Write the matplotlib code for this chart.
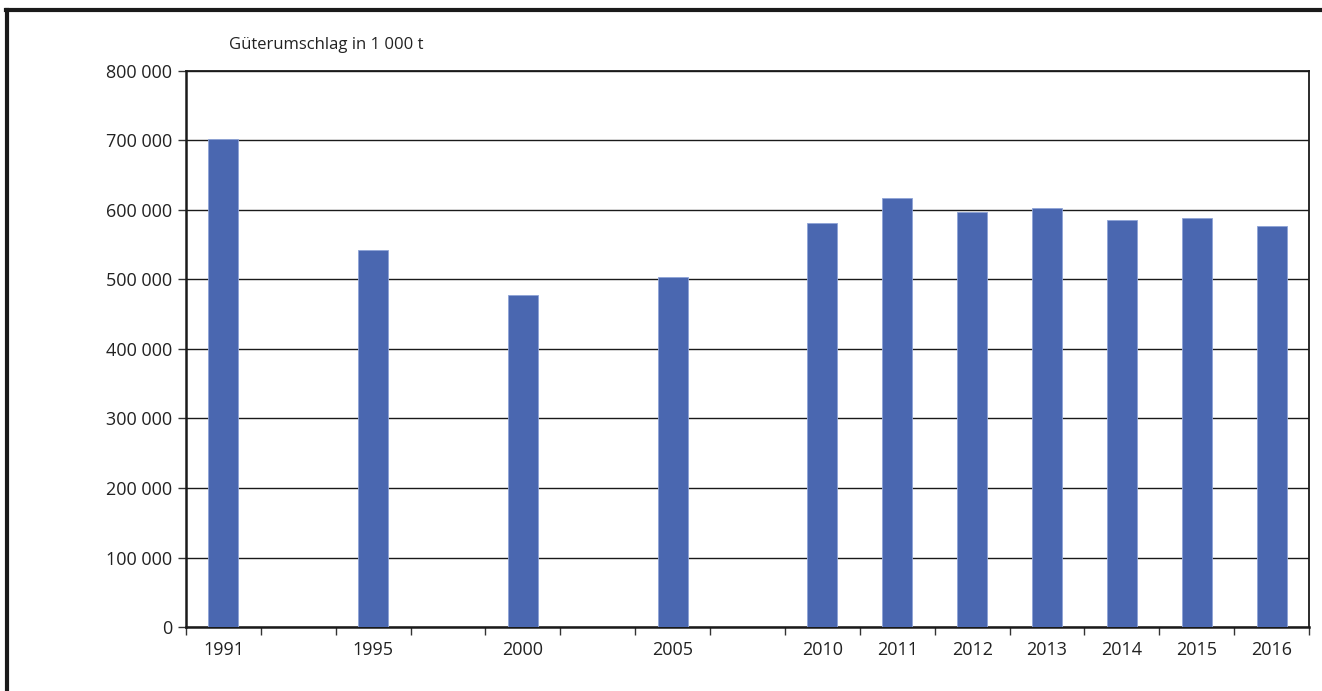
import matplotlib.pyplot as plt
from matplotlib.lines import Line2D
from matplotlib.ticker import FuncFormatter
import numpy as np

# slots on the category axis (empty slots have no bar)
categories = ['1991', '', '1995', '', '2000', '', '2005', '',
              '2010', '2011', '2012', '2013', '2014', '2015', '2016']
values = [702400, None, 541700, None, 478000, None, 502900, None,
          581700, 617300, 597600, 603300, 585500, 588900, 577400]
y_ticks = [0, 100000, 200000, 300000, 400000, 500000, 600000, 700000, 800000]
y_title = 'Güterumschlag in 1 000 t'

plt.rcParams['font.family'] = ['Open Sans', 'DejaVu Sans']

fig = plt.figure(figsize=(13.22, 6.91), dpi=100)
ax = fig.add_axes([0.1407, 0.0926, 0.9902 - 0.1407, 0.8973 - 0.0926])

x = np.arange(len(categories))
bar_x = [i for i, v in zip(x, values) if v is not None]
bar_v = [v for v in values if v is not None]
ax.bar(bar_x, bar_v, width=0.4, color='#4a67b0', edgecolor='#8ea3d6',
       linewidth=0.6, zorder=3)

ax.set_xlim(-0.5, len(categories) - 0.5)
ax.set_ylim(0, 800000)

# y axis, thousands separated by a space
ax.set_yticks(y_ticks)
ax.yaxis.set_major_formatter(FuncFormatter(lambda v, p: f'{int(v):,}'.replace(',', ' ')))
ax.grid(axis='y', color='#1a1a1a', linewidth=1.0, zorder=1)
ax.tick_params(axis='y', length=6, width=1, color='#333333', labelsize=13,
               labelcolor='#222222', pad=4)

# x axis: marks between categories, labels in the middle
ax.set_xticks(np.arange(-0.5, len(categories), 1.0))
ax.set_xticklabels([])
ax.set_xticks(x, minor=True)
ax.set_xticklabels(categories, minor=True)
ax.tick_params(axis='x', which='major', length=6, width=1, color='#333333')
ax.tick_params(axis='x', which='minor', length=0, labelsize=13,
               labelcolor='#222222', pad=10)

for side in ['left', 'bottom', 'right', 'top']:
    ax.spines[side].set_color('#1a1a1a')
    ax.spines[side].set_linewidth(1.3)
ax.spines['left'].set_linewidth(1.8)
ax.spines['bottom'].set_linewidth(1.8)

fig.text(0.1735, 0.935, y_title, fontsize=12, color='#222222',
         ha='left', va='center')

# outer frame (left and top)
fig.add_artist(Line2D([0.0053, 0.0053], [0.0, 0.9855], color='#1a1a1a',
                      linewidth=3.0, transform=fig.transFigure))
fig.add_artist(Line2D([0.0042, 1.0], [0.9855, 0.9855], color='#1a1a1a',
                      linewidth=3.0, transform=fig.transFigure))

fig.savefig('out.png', dpi=100)
